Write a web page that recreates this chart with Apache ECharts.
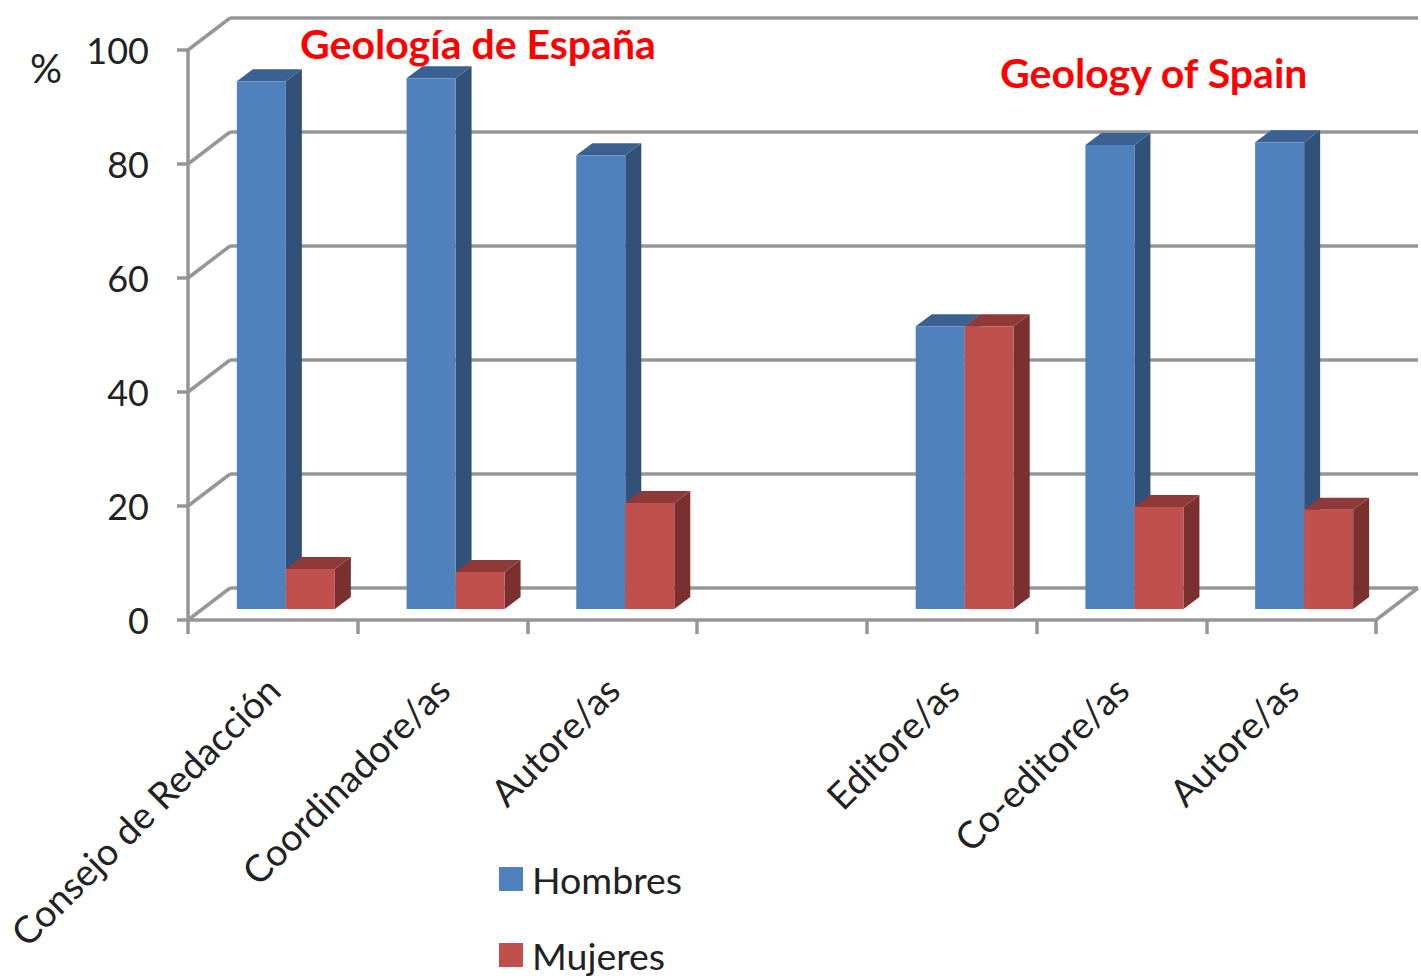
<!DOCTYPE html>
<html>
<head>
<meta charset="utf-8">
<title>Geología de España / Geology of Spain</title>
<style>
  html, body { margin: 0; padding: 0; background: #fff; }
  #chart { width: 1421px; height: 980px; }
</style>
<script src="https://cdn.jsdelivr.net/npm/echarts@6/dist/echarts.min.js"></script>
</head>
<body>
<div id="chart"></div>
<script>
var categories = ['Consejo de Redacción', 'Coordinadore/as', 'Autore/as', '', 'Editore/as', 'Co-editore/as', 'Autore/as'];
var hombres = [92.6, 93.1, 79.6, null, 49.6, 81.4, 81.9];
var mujeres = [7, 6.5, 18.6, null, 49.6, 17.9, 17.4];
var yTicks = [0, 20, 40, 60, 80, 100];

var font = 'Lato, "Open Sans", sans-serif';
var ink = '#222222';
var line = '#969696';

// 3D look, in pixels
var wallDx = 42, wallDy = -32;
var depthDx = 16, depthDy = -12;
var baseDy = -11;
var barW = 49;

var chart = echarts.init(document.getElementById('chart'), null, { renderer: 'svg' });

function toData(values) {
  var out = [];
  values.forEach(function(v, i) {
    if (v !== null) out.push([i, v]);
  });
  return out;
}

function barRenderer(left, front, side, top) {
  return function(params, api) {
    var p = api.coord([api.value(0), api.value(1)]);
    var zero = api.coord([api.value(0), 0]);
    var x0 = p[0] + left, x1 = x0 + barW;
    var y0 = p[1] + baseDy, y1 = zero[1] + baseDy;
    return {
      type: 'group',
      children: [
        { type: 'polygon', shape: { points: [[x1, y0], [x1 + depthDx, y0 + depthDy], [x1 + depthDx, y1 + depthDy], [x1, y1]] }, style: { fill: side } },
        { type: 'polygon', shape: { points: [[x0, y0], [x0 + depthDx, y0 + depthDy], [x1 + depthDx, y0 + depthDy], [x1, y0]] }, style: { fill: top } },
        { type: 'rect', shape: { x: x0, y: y0, width: barW, height: y1 - y0 }, style: { fill: front } }
      ]
    };
  };
}

function wallRenderer(params, api) {
  var v = api.value(0);
  var band = api.size([1, 0])[0];
  var a = api.coord([0, v]);
  var x0 = a[0] - band / 2;
  var x1 = api.coord([categories.length - 1, v])[0] + band / 2;
  var lineStyle = { stroke: line, lineWidth: 3.5, fill: null };
  var children = [
    { type: 'line', shape: { x1: x0, y1: a[1], x2: x0 + wallDx, y2: a[1] + wallDy }, style: lineStyle },
    { type: 'line', shape: { x1: x0 + wallDx, y1: a[1] + wallDy, x2: x1 + wallDx, y2: a[1] + wallDy }, style: lineStyle }
  ];
  if (v === 0) {
    children.push({ type: 'line', shape: { x1: x1, y1: a[1], x2: x1 + wallDx, y2: a[1] + wallDy }, style: lineStyle });
  }
  return { type: 'group', children: children };
}

chart.setOption({
  animation: false,
  backgroundColor: '#fff',
  title: [
    { text: 'Geología de España', left: 295, top: 18, textStyle: { color: '#ff0000', fontFamily: font, fontSize: 41, fontWeight: 'bold' } },
    { text: 'Geology of Spain', left: 995, top: 47, textStyle: { color: '#ff0000', fontFamily: font, fontSize: 41, fontWeight: 'bold' } }
  ],
  legend: {
    orient: 'vertical',
    left: 499,
    top: 860,
    height: 140,
    padding: 0,
    itemWidth: 24,
    itemHeight: 24,
    itemGap: 38,
    icon: 'rect',
    data: ['Hombres', 'Mujeres'],
    textStyle: { color: ink, fontFamily: font, fontSize: 37.5, padding: [0, 0, 0, 4] }
  },
  grid: { left: 188, top: 50, width: 1188, height: 570, containLabel: false, outerBoundsMode: 'none' },
  xAxis: {
    type: 'category',
    data: categories,
    axisLine: { lineStyle: { color: line, width: 3.5 } },
    axisTick: { show: true, length: 14, lineStyle: { color: line, width: 3.5 } },
    axisLabel: {
      rotate: 45,
      interval: 0,
      margin: 63,
      color: ink,
      fontFamily: font,
      fontSize: 37.5
    }
  },
  yAxis: {
    type: 'value',
    min: 0,
    max: 100,
    interval: 20,
    name: '%',
    nameLocation: 'end',
    nameGap: -18,
    nameTextStyle: { color: ink, fontFamily: font, fontSize: 40, align: 'right', verticalAlign: 'middle', padding: [0, 126, 0, 0] },
    axisLine: { show: true, lineStyle: { color: line, width: 3.5 } },
    axisTick: { show: true, length: 11, lineStyle: { color: line, width: 3.5 } },
    axisLabel: { color: ink, fontFamily: font, fontSize: 36, margin: 39 },
    splitLine: { show: false }
  },
  series: [
    {
      name: 'walls',
      type: 'custom',
      data: yTicks.map(function(v) { return [v]; }),
      encode: { y: 0 },
      renderItem: wallRenderer,
      z: 1,
      silent: true
    },
    {
      name: 'Hombres',
      type: 'custom',
      data: toData(hombres),
      encode: { x: 0, y: 1 },
      itemStyle: { color: '#4f81bd' },
      renderItem: barRenderer(-36, '#4f81bd', '#325178', '#3a6191'),
      z: 3
    },
    {
      name: 'Mujeres',
      type: 'custom',
      data: toData(mujeres),
      encode: { x: 0, y: 1 },
      itemStyle: { color: '#c0504d' },
      renderItem: barRenderer(13, '#c0504d', '#7a302e', '#8f3a38'),
      z: 4
    }
  ]
});
window.addEventListener('resize', function() { chart.resize(); });
</script>
</body>
</html>
